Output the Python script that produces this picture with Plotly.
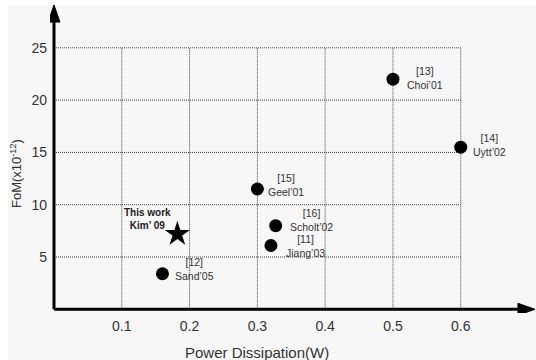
import plotly.graph_objects as go

# ---- data ----
power_w = [0.5, 0.6, 0.3, 0.327, 0.32, 0.16]
fom = [22.0, 15.5, 11.5, 8.0, 6.1, 3.4]
refs = ["[13]", "[14]", "[15]", "[16]", "[11]", "[12]"]
names = ["Choi’01", "Uytt’02", "Geel’01", "Scholt’02", "Jiang’03", "Sand’05"]
this_work_power = [0.182]
this_work_fom = [7.2]
this_work_label = "This work<br>Kim’ 09"
x_ticks = [0.1, 0.2, 0.3, 0.4, 0.5, 0.6]
y_ticks = [5, 10, 15, 20, 25]

# label offsets in pixels (layout only)
label_dx = [32, 29, 29, 36, 35, 32]
label_dy = [1, 2, 4, 6, 0, 5]

X_RANGE = [-0.0059, 0.711]
Y_RANGE = [-0.354, 29.19]
X_TIP = 0.7095
Y_TIP = 29.09

FONT = "Liberation Sans, Arial, sans-serif"
TXT = "#333333"

fig = go.Figure()

fig.add_trace(go.Scatter(
    x=power_w, y=fom, mode="markers",
    marker=dict(symbol="circle", size=13, color="black"),
    hoverinfo="skip", showlegend=False))
fig.add_trace(go.Scatter(
    x=this_work_power, y=this_work_fom, mode="markers",
    marker=dict(symbol="star", size=19, color="black"),
    hoverinfo="skip", showlegend=False))

shapes = []
# background panel
shapes.append(dict(type="rect", xref="paper", yref="paper",
                   x0=(8 - 50) / 486, x1=1.01, y0=(313 - 362) / 309, y1=(313 - 5) / 309,
                   fillcolor="#f7f7f7", line=dict(width=0), layer="below"))
# grid
xmax_grid = max(x_ticks)
ymax_grid = max(y_ticks)
for xv in x_ticks:
    shapes.append(dict(type="line", xref="x", yref="y", x0=xv, x1=xv, y0=0, y1=ymax_grid,
                       line=dict(color="#444444", width=1, dash="1px,1px"), layer="below"))
for yv in y_ticks:
    shapes.append(dict(type="line", xref="x", yref="y", x0=0, x1=xmax_grid, y0=yv, y1=yv,
                       line=dict(color="#444444", width=1, dash="1px,1px"), layer="below"))
# axes
shapes.append(dict(type="line", xref="x", yref="y", x0=0, x1=X_TIP - 0.01, y0=0, y1=0,
                   line=dict(color="black", width=3)))
shapes.append(dict(type="line", xref="x", yref="y", x0=0, x1=0, y0=0, y1=Y_TIP - 0.8,
                   line=dict(color="black", width=3)))
# arrowheads
shapes.append(dict(type="path", xref="x", yref="y", xsizemode="pixel", ysizemode="pixel",
                   xanchor=X_TIP, yanchor=0, path="M-17,-6 L0,0 L-17,6 Z",
                   fillcolor="black", line=dict(color="black", width=1)))
shapes.append(dict(type="path", xref="x", yref="y", xsizemode="pixel", ysizemode="pixel",
                   xanchor=0, yanchor=Y_TIP, path="M-6,-17 L0,0 L6,-17 Z",
                   fillcolor="black", line=dict(color="black", width=1)))

annotations = []
for x, y, r, n, dx, dy in zip(power_w, fom, refs, names, label_dx, label_dy):
    annotations.append(dict(x=x, y=y, xref="x", yref="y", text=f"{r}<br>{n}",
                            showarrow=False, xanchor="center", yanchor="middle",
                            xshift=dx, yshift=dy, align="center",
                            font=dict(family=FONT, size=10.5, color=TXT)))
annotations.append(dict(x=this_work_power[0], y=this_work_fom[0], xref="x", yref="y",
                        text=f"<b>{this_work_label}</b>", showarrow=False,
                        xanchor="center", yanchor="middle", xshift=-30, yshift=15,
                        align="center", font=dict(family=FONT, size=10, color="#222222")))
annotations.append(dict(x=(257 - 50) / 486, y=(313 - 352) / 309, xref="paper", yref="paper",
                        text="Power Dissipation(W)", showarrow=False,
                        xanchor="center", yanchor="middle",
                        font=dict(family=FONT, size=15, color=TXT)))
annotations.append(dict(x=(16 - 50) / 486, y=(313 - 174) / 309, xref="paper", yref="paper",
                        text="FoM(x10<sup>-12</sup>)", showarrow=False, textangle=-90,
                        xanchor="center", yanchor="middle",
                        font=dict(family=FONT, size=13, color=TXT)))

fig.update_layout(
    width=536, height=360,
    margin=dict(l=50, r=0, t=4, b=47),
    paper_bgcolor="white", plot_bgcolor="rgba(0,0,0,0)",
    shapes=shapes, annotations=annotations,
    xaxis=dict(range=X_RANGE, tickvals=x_ticks, ticktext=[f"{v:.1f}" for v in x_ticks],
               showgrid=False, zeroline=False, showline=False, ticks="",
               ticklabelstandoff=3, tickfont=dict(family=FONT, size=14, color=TXT)),
    yaxis=dict(range=Y_RANGE, tickvals=y_ticks, showgrid=False, zeroline=False,
               showline=False, ticks="", ticklabelstandoff=2,
               tickfont=dict(family=FONT, size=14, color=TXT)),
)

fig.write_html("out.html")
